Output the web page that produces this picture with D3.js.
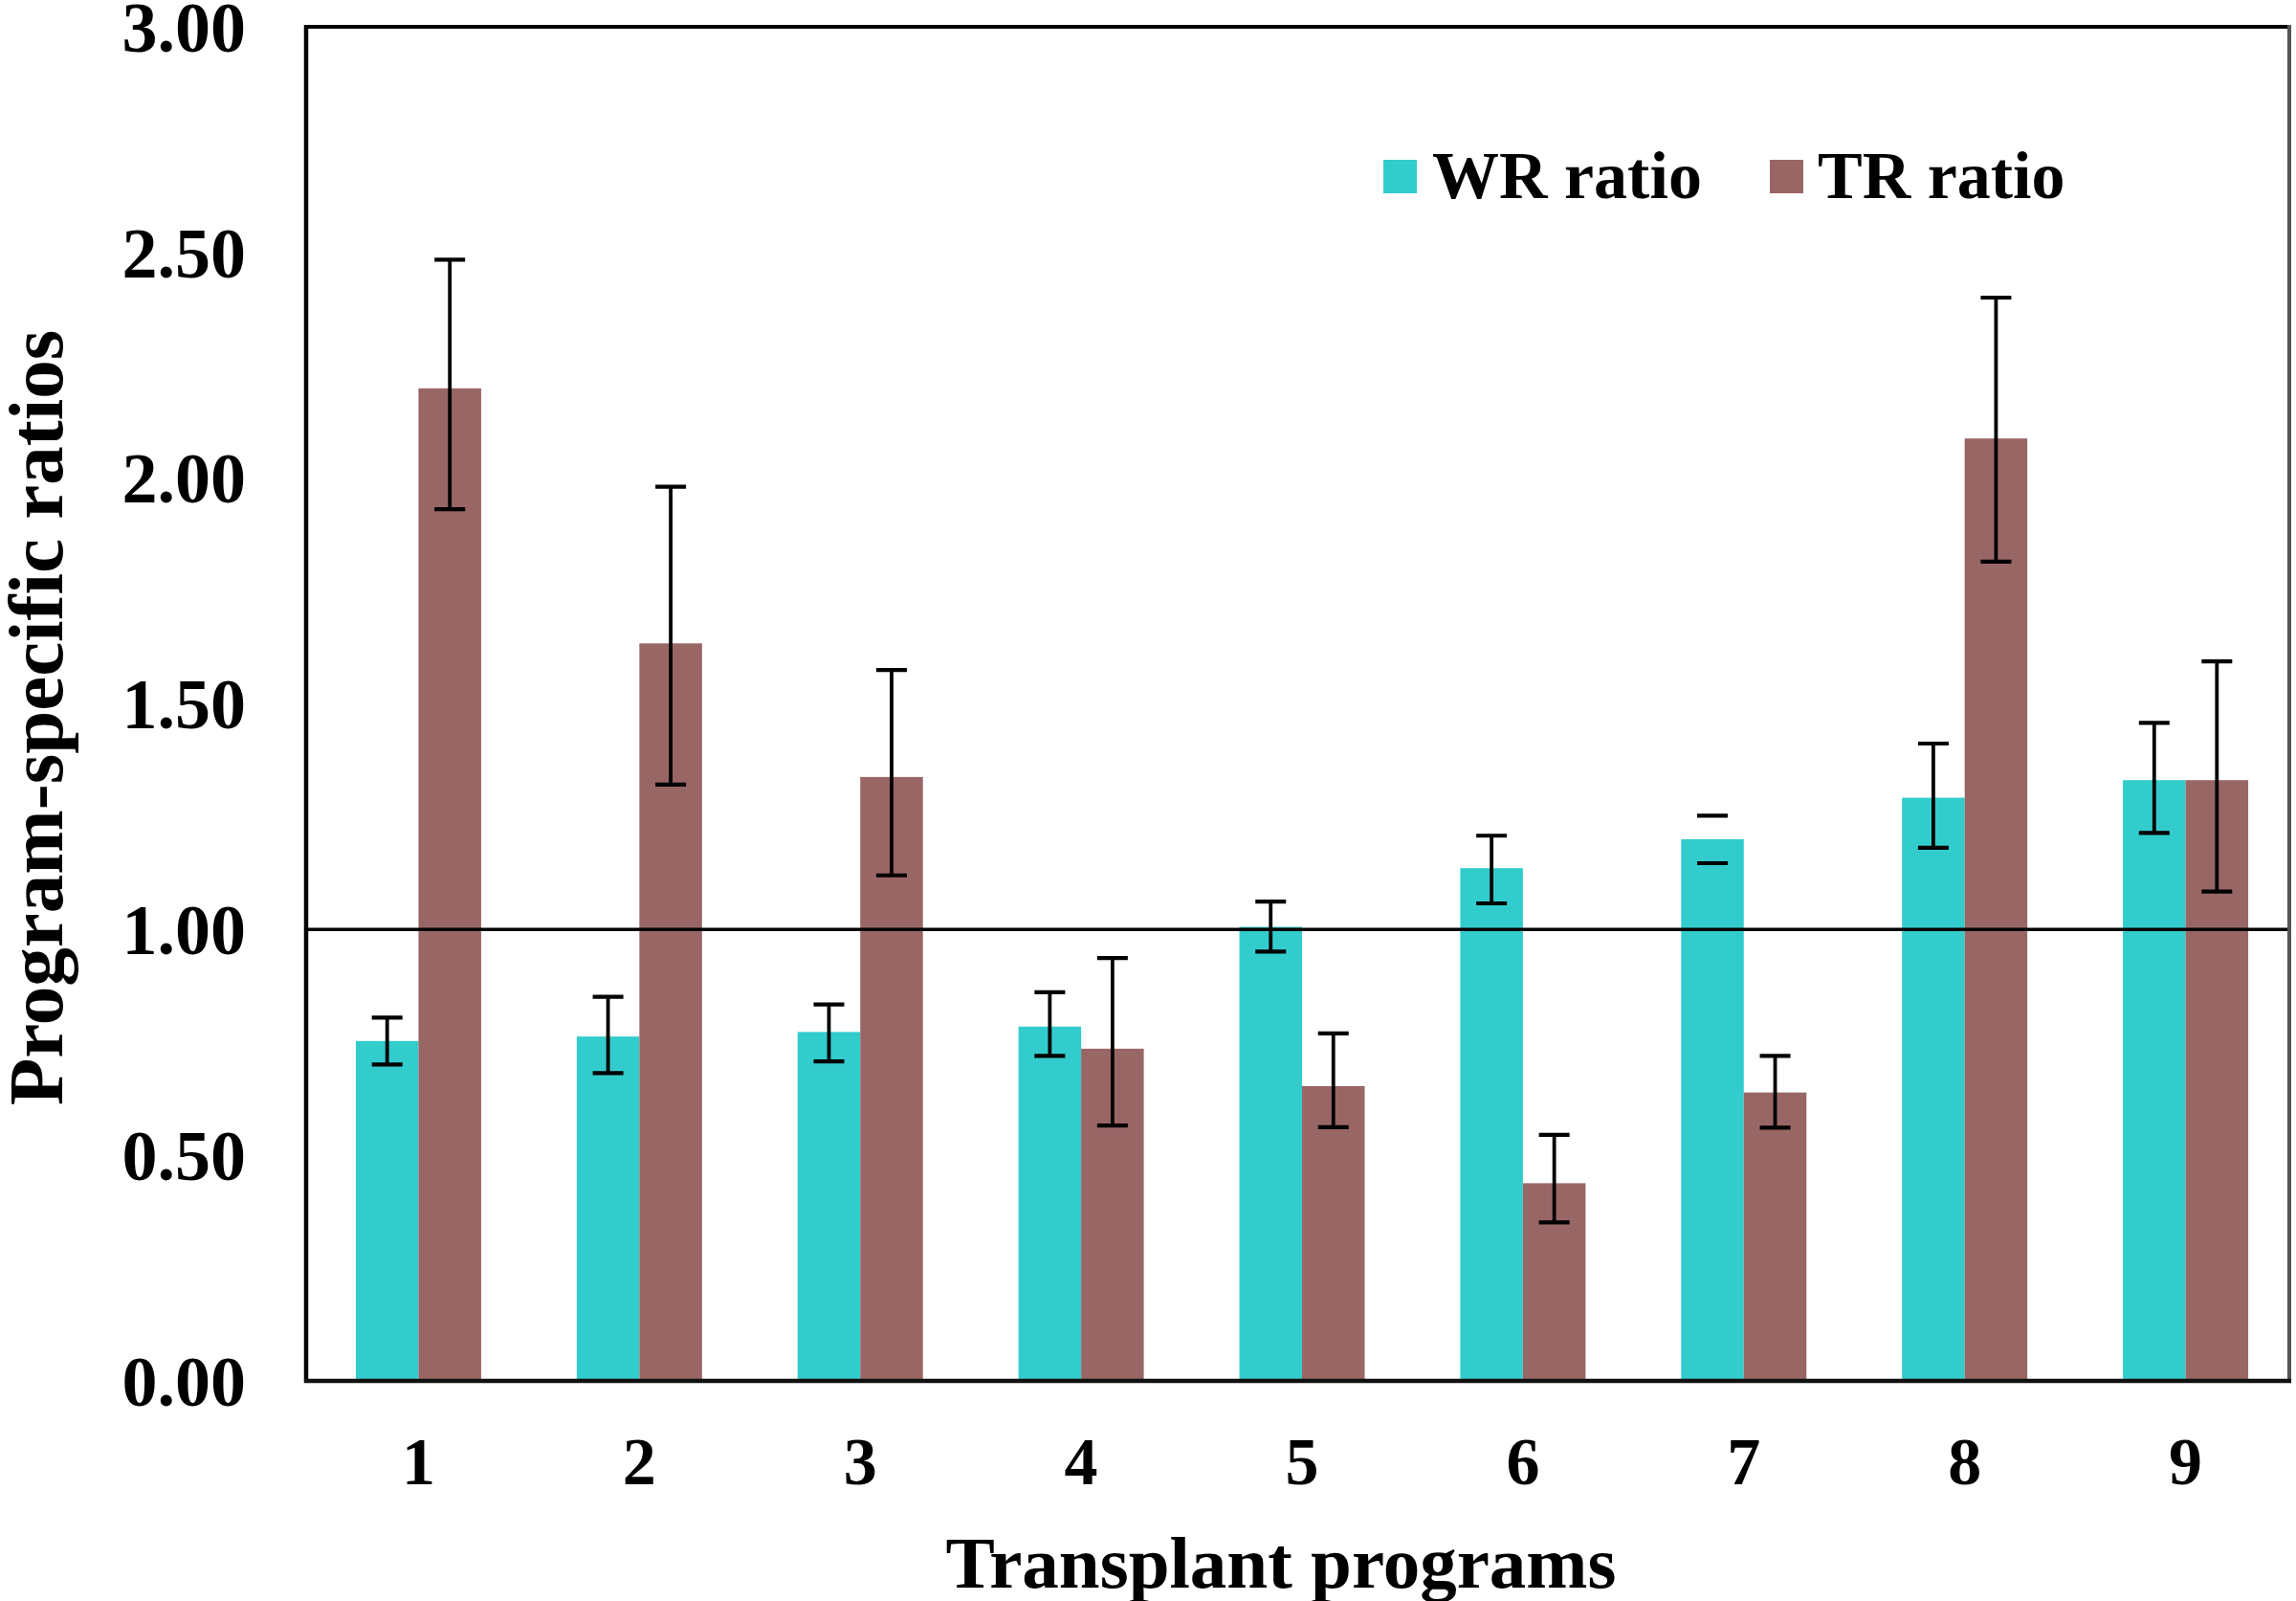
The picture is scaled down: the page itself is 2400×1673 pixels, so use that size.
<!DOCTYPE html>
<html>
<head>
<meta charset="utf-8">
<script src="https://cdn.jsdelivr.net/npm/d3@7"></script>
<style>
  html, body { margin: 0; padding: 0; background: #fff; }
  svg { display: block; }
  text { font-family: "Liberation Serif", "Times New Roman", serif; font-weight: bold; fill: #000; }
</style>
</head>
<body>
<svg id="chart" width="2400" height="1673"></svg>
<script>
// ---- data ----
const programs = ["1", "2", "3", "4", "5", "6", "7", "8", "9"];
const seriesNames = ["WR ratio", "TR ratio"];
const wrValues = [0.753, 0.763, 0.773, 0.785, 1.006, 1.136, 1.200, 1.292, 1.331];
const wrUpper  = [0.805, 0.851, 0.834, 0.861, 1.062, 1.208, 1.252, 1.412, 1.458];
const wrLower  = [0.701, 0.682, 0.708, 0.720, 0.951, 1.058, 1.147, 1.181, 1.214];
const wrStemVisible = [true, true, true, true, true, true, false, true, true];
const trValues = [2.199, 1.634, 1.338, 0.736, 0.653, 0.438, 0.639, 2.088, 1.331];
const trUpper  = [2.484, 1.981, 1.575, 0.937, 0.770, 0.545, 0.720, 2.400, 1.594];
const trLower  = [1.931, 1.321, 1.120, 0.566, 0.562, 0.351, 0.561, 1.815, 1.084];
const trStemVisible = [true, true, true, true, true, true, true, true, true];
const yTicks = [0, 0.5, 1.0, 1.5, 2.0, 2.5, 3.0];
const referenceValue = 1.0;
const xTitle = "Transplant programs";
const yTitle = "Program-specific ratios";
const colors = ["#33CCCC", "#996666"];

// ---- layout ----
const svg = d3.select("#chart");
const frame = { left: 320, right: 2393, top: 28, bottom: 1443 };

const x0 = d3.scaleBand().domain(programs).range([322, 2400]).paddingInner(0).paddingOuter(0);
const barW = 65.5;
const groupW = barW * seriesNames.length;
const x1 = d3.scaleBand().domain(seriesNames)
  .range([(x0.bandwidth() - groupW) / 2, (x0.bandwidth() + groupW) / 2]);
const y = d3.scaleLinear().domain([0, 3]).range([frame.bottom, frame.top]);
const color = d3.scaleOrdinal().domain(seriesNames).range(colors);

const rows = programs.map((p, i) => ({
  program: p,
  series: [
    { name: seriesNames[0], value: wrValues[i], hi: wrUpper[i], lo: wrLower[i], stem: wrStemVisible[i] },
    { name: seriesNames[1], value: trValues[i], hi: trUpper[i], lo: trLower[i], stem: trStemVisible[i] }
  ]
}));

// bars
const groups = svg.append("g").selectAll("g").data(rows).join("g")
  .attr("transform", d => `translate(${x0(d.program)},0)`);

groups.selectAll("rect").data(d => d.series).join("rect")
  .attr("x", d => x1(d.name))
  .attr("width", x1.bandwidth())
  .attr("y", d => y(d.value))
  .attr("height", d => y(0) - y(d.value))
  .attr("fill", d => color(d.name));

// reference line at 1.00
svg.append("line")
  .attr("x1", frame.left).attr("x2", frame.right)
  .attr("y1", y(referenceValue)).attr("y2", y(referenceValue))
  .attr("stroke", "#000").attr("stroke-width", 3.5);

// error bars
const capW = 32;
const eb = groups.selectAll("g.err").data(d => d.series).join("g").attr("class", "err")
  .attr("transform", d => `translate(${x1(d.name) + x1.bandwidth() / 2},0)`);
eb.filter(d => d.stem).append("line")
  .attr("x1", 0).attr("x2", 0)
  .attr("y1", d => y(d.hi)).attr("y2", d => y(d.lo))
  .attr("stroke", "#000").attr("stroke-width", 3.8);
eb.append("line")
  .attr("x1", -capW / 2).attr("x2", capW / 2)
  .attr("y1", d => y(d.hi)).attr("y2", d => y(d.hi))
  .attr("stroke", "#000").attr("stroke-width", 4.2);
eb.append("line")
  .attr("x1", -capW / 2).attr("x2", capW / 2)
  .attr("y1", d => y(d.lo)).attr("y2", d => y(d.lo))
  .attr("stroke", "#000").attr("stroke-width", 4.2);

// frame
svg.append("line").attr("x1", frame.left).attr("x2", frame.right)
  .attr("y1", frame.top).attr("y2", frame.top).attr("stroke", "#000").attr("stroke-width", 4);
svg.append("line").attr("x1", frame.right).attr("x2", frame.right)
  .attr("y1", frame.top - 2).attr("y2", frame.bottom).attr("stroke", "#555").attr("stroke-width", 4);
svg.append("line").attr("x1", frame.left).attr("x2", frame.left)
  .attr("y1", frame.top - 2).attr("y2", frame.bottom + 2).attr("stroke", "#000").attr("stroke-width", 4.5);
svg.append("line").attr("x1", frame.left - 2).attr("x2", frame.right + 2)
  .attr("y1", frame.bottom).attr("y2", frame.bottom).attr("stroke", "#111").attr("stroke-width", 4.5);

// y axis (labels only)
const yAxis = d3.axisLeft(y).tickValues(yTicks).tickFormat(d3.format(".2f")).tickSize(0).tickPadding(0);
const gy = svg.append("g").attr("transform", "translate(257,0)").call(yAxis);
gy.select(".domain").remove();
gy.selectAll("text").style("font-size", "74px").style("font-family", "'Liberation Serif', serif")
  .style("font-weight", "bold").attr("fill", "#000").attr("dy", "0.34em");

// x axis (labels only)
const xAxis = d3.axisBottom(x0).tickSize(0).tickPadding(0);
const gx = svg.append("g").attr("transform", "translate(0,1528)").call(xAxis);
gx.select(".domain").remove();
gx.selectAll("text").style("font-size", "70px").style("font-family", "'Liberation Serif', serif")
  .style("font-weight", "bold").attr("fill", "#000").attr("dy", "0.33em");

// axis titles
svg.append("text").attr("x", 1339).attr("y", 1632).attr("dy", "0.35em")
  .attr("text-anchor", "middle").style("font-size", "77px").text(xTitle);
svg.append("text").attr("transform", "translate(37,750) rotate(-90)").attr("dy", "0.35em")
  .attr("text-anchor", "middle").style("font-size", "81px").text(yTitle);

// legend
const legendItems = [
  { name: seriesNames[0], sx: 1446, tx: 1497 },
  { name: seriesNames[1], sx: 1850, tx: 1900 }
];
const lg = svg.append("g");
lg.selectAll("rect").data(legendItems).join("rect")
  .attr("x", d => d.sx).attr("y", 167).attr("width", 35).attr("height", 35)
  .attr("fill", d => color(d.name));
lg.selectAll("text").data(legendItems).join("text")
  .attr("x", d => d.tx).attr("y", 207).style("font-size", "70px").text(d => d.name);
</script>
</body>
</html>
